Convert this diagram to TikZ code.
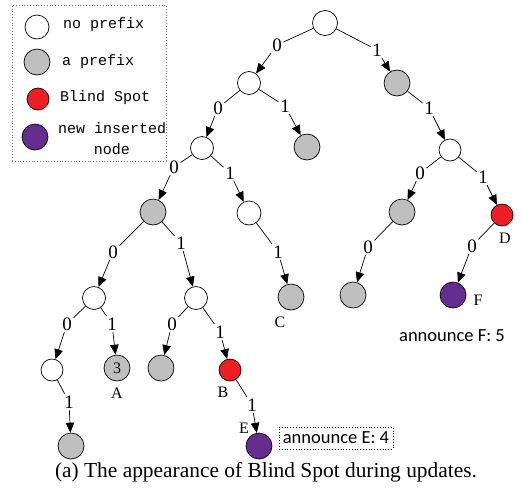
\documentclass[tikz,border=0pt]{standalone}
\usepackage{fontspec}
\setmainfont{Liberation Serif}
\newfontfamily\legfont{Liberation Mono}
\newfontfamily\annfont{Carlito}
\usetikzlibrary{arrows.meta}
\definecolor{gfill}{RGB}{191,191,191}
\definecolor{rfill}{RGB}{237,30,36}
\definecolor{pfill}{RGB}{102,45,145}
\definecolor{boxgray}{RGB}{120,120,120}
\newcommand\myedge[5]{\node[lbl] (#2) at (#3) {#4};
  \draw[ln] (#1) -- (#2);
  \draw[ar] (#2) -- (#5);}
\begin{document}
\begin{tikzpicture}[x=1pt,y=-1pt,
  tn/.style={circle,draw,line width=0.7pt,inner sep=0pt},
  wn/.style={tn,fill=white,minimum size=23pt},
  gn/.style={tn,fill=gfill,minimum size=26pt},
  rn/.style={tn,fill=rfill,minimum size=22pt},
  pn/.style={tn,fill=pfill,minimum size=26pt},
  lbl/.style={inner sep=1.5pt,font=\fontsize{19}{19}\selectfont},
  nlab/.style={inner sep=0pt,font=\fontsize{16}{16}\selectfont},
  legtext/.style={anchor=west,inner sep=0pt,font=\legfont\fontsize{15}{17}\selectfont},
  ann/.style={font=\annfont\fontsize{18.5}{18.5}\selectfont},
  ln/.style={line width=0.7pt},
  ar/.style={ln,-{Triangle[length=10pt,width=8.5pt]}},
  legbox/.style={draw=boxgray,dotted,line width=0.8pt},
]
\useasboundingbox (0,0) rectangle (521,488);

% legend
\node[legbox,minimum width=154pt,minimum height=156pt,inner sep=0pt] (legend) at (89,83) {};
\node[wn,minimum size=24pt] (lw) at (37,27) {};
\node[gn] (lg) at (37,62) {};
\node[rn] (lr) at (38,99) {};
\node[pn] (lp) at (35,137) {};
\node[legtext] (tw) at (63,25) {no prefix};
\node[legtext] (tg) at (62,62) {a prefix};
\node[legtext] (tr) at (60,98) {Blind Spot};
\node[legtext] (tp) at (58,128) {new inserted};
\node[inner sep=0pt,font=\legfont\fontsize{15}{17}\selectfont] (tp2) at (112,149) {node};

% tree nodes
\node[wn,minimum size=25pt] (root) at (325,23) {};
\node[wn] (L) at (249,83) {};
\node[gn] (R) at (397,83) {};
\node[wn] (LL) at (202,148) {};
\node[gn] (LR) at (307,147) {};
\node[wn,minimum size=22pt] (RR) at (450,150) {};
\node[gn] (LLL) at (153,212) {};
\node[wn,minimum size=24pt] (LLR) at (249,213) {};
\node[gn] (RRL) at (402,212) {};
\node[rn] (D) at (502,215) {};
\node[wn] (LLLL) at (94,298) {};
\node[wn] (LLLR) at (196,298) {};
\node[gn] (C) at (291,297) {};
\node[gn] (RRLL) at (353,295) {};
\node[pn] (F) at (453,295) {};
\node[wn,minimum size=22pt] (LLLLL) at (52,370) {};
\node[gn,font=\fontsize{16}{16}\selectfont] (A) at (117,368) {3};
\node[gn] (LLLRL) at (161,368) {};
\node[rn] (B) at (230,370) {};
\node[gn] (BL) at (71,446) {};
\node[pn] (E) at (259,446) {};

% edges
\myedge{root}{e1}{277,45}{0}{L}
\myedge{root}{e2}{377,50}{1}{R}
\myedge{L}{e3}{218,108}{0}{LL}
\myedge{L}{e4}{285,106}{1}{LR}
\myedge{R}{e5}{429,108}{1}{RR}
\myedge{LL}{e6}{174,167}{0}{LLL}
\myedge{LL}{e7}{230,173}{1}{LLR}
\myedge{RR}{e8}{420,173}{0}{RRL}
\myedge{RR}{e9}{483,177}{1}{D}
\myedge{LLL}{e10}{113,252}{0}{LLLL}
\myedge{LLL}{e11}{181,243}{1}{LLLR}
\myedge{LLR}{e12}{278,252}{1}{C}
\myedge{RRL}{e13}{368,247}{0}{RRLL}
\myedge{D}{e14}{472,246}{0}{F}
\myedge{LLLL}{e15}{67,324}{0}{LLLLL}
\myedge{LLLL}{e16}{112,324}{1}{A}
\myedge{LLLR}{e17}{172,324}{0}{LLLRL}
\myedge{LLLR}{e18}{220,332}{1}{B}
\myedge{LLLLL}{e19}{69,402}{1}{BL}
\myedge{B}{e20}{252,405}{1}{E}

% node labels
\node[nlab] (labA) at (117,393) {A};
\node[nlab] (labB) at (223,392) {B};
\node[nlab] (labC) at (280,322) {C};
\node[nlab] (labD) at (505,238) {D};
\node[nlab] (labE) at (244,428) {E};
\node[nlab] (labF) at (478,300) {F};

% announcements
\node[ann] (annF) at (452,336) {announce F: 5};
\node[ann,legbox,draw=black,inner sep=1.5pt,minimum width=114pt,minimum height=22pt] (annE) at (336,438) {announce E: 4};

% caption
\node[font=\fontsize{21.4}{21.4}\selectfont] (cap) at (266,472) {(a) The appearance of Blind Spot during updates.};
\end{tikzpicture}
\end{document}
